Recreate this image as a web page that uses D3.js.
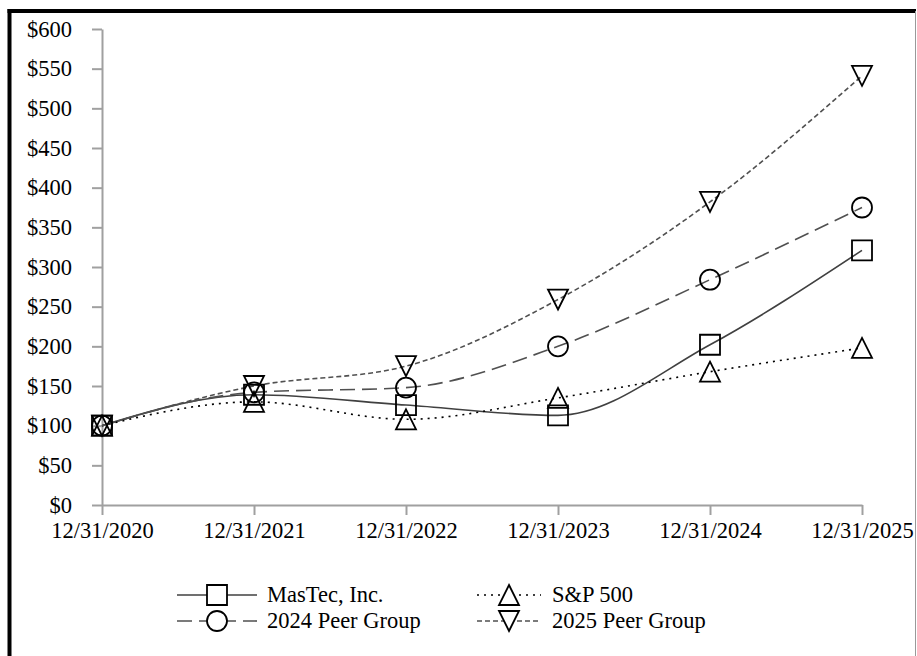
<!DOCTYPE html>
<html>
<head>
<meta charset="utf-8">
<script src="https://cdn.jsdelivr.net/npm/d3@7"></script>
<style>
  html, body { margin: 0; padding: 0; background: #fff; }
</style>
</head>
<body>
<div id="chart"></div>
<script>
(function() {
  'use strict';

  // data
  var dates = ['12/31/2020', '12/31/2021', '12/31/2022', '12/31/2023', '12/31/2024', '12/31/2025'];
  var mastec = [100, 139, 126, 113, 202, 321];
  var peer2024 = [100, 142, 148, 200, 284, 375];
  var sp500 = [100, 130, 108, 135, 168, 198];
  var peer2025 = [100, 150, 175, 259, 382, 541];
  var yTicks = [0, 50, 100, 150, 200, 250, 300, 350, 400, 450, 500, 550, 600];
  var seriesNames = ['MasTec, Inc.', '2024 Peer Group', 'S&P 500', '2025 Peer Group'];

  const WIDTH = 917;
  const HEIGHT = 656;
  const PLOT = { LEFT: 102, RIGHT: 862, TOP: 29, BOTTOM: 505 };
  const FONT = 22.5;
  const FONT_FAMILY = '"Liberation Serif", "Times New Roman", Times, serif';
  const AXIS_COLOR = '#a0a0a0';

  var series = [
    { name: seriesNames[0], values: mastec, marker: 'square', dash: null, color: '#404040' },
    { name: seriesNames[1], values: peer2024, marker: 'circle', dash: '15,7', color: '#505050' },
    { name: seriesNames[2], values: sp500, marker: 'triUp', dash: '2,5', color: '#000' },
    { name: seriesNames[3], values: peer2025, marker: 'triDown', dash: '5,3', color: '#505050' }
  ];

  function markerPath(type) {
    var r = 10;
    if (type === 'square') {
      return 'M' + -r + ',' + -r + 'H' + r + 'V' + r + 'H' + -r + 'Z';
    }
    if (type === 'circle') {
      return 'M' + r + ',0A' + r + ',' + r + ' 0 1,1 ' + -r + ',0A' + r + ',' + r + ' 0 1,1 ' + r + ',0Z';
    }
    if (type === 'triUp') {
      return 'M0,' + -r + 'L' + r + ',' + r + 'L' + -r + ',' + r + 'Z';
    }
    return 'M0,' + r + 'L' + r + ',' + -r + 'L' + -r + ',' + -r + 'Z';
  }

  var svg = d3.select('#chart').append('svg')
    .attr('width', WIDTH)
    .attr('height', HEIGHT);

  // frame: heavy black top/left, thin grey right
  svg.append('line').attr('x1', 9.5).attr('x2', 9.5).attr('y1', 9).attr('y2', HEIGHT)
    .style('stroke', '#000').style('stroke-width', 4);
  svg.append('line').attr('x1', 7.5).attr('x2', 916).attr('y1', 11).attr('y2', 11)
    .style('stroke', '#000').style('stroke-width', 4);
  svg.append('line').attr('x1', 915.5).attr('x2', 915.5).attr('y1', 11).attr('y2', HEIGHT)
    .style('stroke', '#999').style('stroke-width', 1);

  var x = d3.scalePoint()
    .domain(dates)
    .range([PLOT.LEFT, PLOT.RIGHT]);

  var y = d3.scaleLinear()
    .domain([0, 600])
    .range([PLOT.BOTTOM, PLOT.TOP]);

  var yAxis = d3.axisLeft(y)
    .tickValues(yTicks)
    .tickSize(10)
    .tickSizeOuter(0)
    .tickPadding(20)
    .tickFormat(function(d) { return '$' + d; });

  var xAxis = d3.axisBottom(x)
    .tickSize(10)
    .tickSizeOuter(0)
    .tickPadding(7);

  var gy = svg.append('g')
    .attr('transform', 'translate(' + PLOT.LEFT + ',0)')
    .call(yAxis);

  var gx = svg.append('g')
    .attr('transform', 'translate(0,' + PLOT.BOTTOM + ')')
    .call(xAxis);

  [gx, gy].forEach(function(g) {
    g.attr('font-size', FONT).attr('font-family', FONT_FAMILY);
    g.selectAll('path, line').style('stroke', AXIS_COLOR).style('stroke-width', 2);
    g.selectAll('text')
      .style('font-family', FONT_FAMILY)
      .style('font-size', FONT + 'px')
      .style('fill', '#000');
  });

  var line = d3.line()
    .x(function(d, i) { return x(dates[i]); })
    .y(function(d) { return y(d); })
    .curve(d3.curveMonotoneX);

  var plot = svg.append('g');

  series.forEach(function(s) {
    plot.append('path')
      .datum(s.values)
      .attr('d', line)
      .style('fill', 'none')
      .style('stroke', s.color)
      .style('stroke-width', 1.6)
      .style('stroke-dasharray', s.dash);
  });

  series.forEach(function(s) {
    plot.selectAll(null)
      .data(s.values)
      .enter().append('path')
      .attr('d', markerPath(s.marker))
      .attr('transform', function(d, i) {
        return 'translate(' + x(dates[i]) + ',' + y(d) + ')';
      })
      .style('fill', 'none')
      .style('stroke', '#000')
      .style('stroke-width', 1.8);
  });

  // legend, two columns by two rows
  var legendCols = [{ x1: 177, x2: 257, tx: 267 }, { x1: 477, x2: 541, tx: 552 }];
  var legendRows = [595, 621];
  var legendOrder = [0, 2, 1, 3];

  legendOrder.forEach(function(si, k) {
    var s = series[si];
    var col = legendCols[k % 2];
    var ry = legendRows[Math.floor(k / 2)];
    var g = svg.append('g').attr('class', 'legend-item');
    g.append('line')
      .attr('x1', col.x1).attr('x2', col.x2)
      .attr('y1', ry).attr('y2', ry)
      .style('stroke', s.color)
      .style('stroke-width', 1.6)
      .style('stroke-dasharray', s.dash);
    g.append('path')
      .attr('d', markerPath(s.marker))
      .attr('transform', 'translate(' + (col.x1 + col.x2) / 2 + ',' + ry + ')')
      .style('fill', '#fff')
      .style('stroke', '#000')
      .style('stroke-width', 1.8);
    g.append('text')
      .attr('x', col.tx)
      .attr('y', ry)
      .attr('dy', '0.33em')
      .style('font-family', FONT_FAMILY)
      .style('font-size', FONT + 'px')
      .text(s.name);
  });
}());
</script>
</body>
</html>
